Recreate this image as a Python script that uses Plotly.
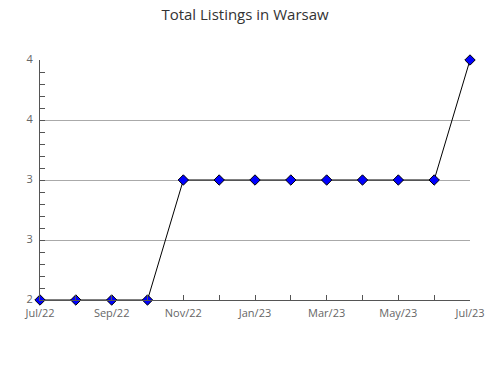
import plotly.graph_objects as go

months = ["Jul/22", "Aug/22", "Sep/22", "Oct/22", "Nov/22", "Dec/22", "Jan/23",
          "Feb/23", "Mar/23", "Apr/23", "May/23", "Jun/23", "Jul/23"]
listings = [2, 2, 2, 2, 3, 3, 3, 3, 3, 3, 3, 3, 4]
tick_labels = ["Jul/22", "Sep/22", "Nov/22", "Jan/23", "Mar/23", "May/23", "Jul/23"]
y_ticks = [2, 2.5, 3, 3.5, 4]
y_tick_labels = ["2", "3", "3", "4", "4"]

xs = list(range(len(months)))

fig = go.Figure()
fig.add_trace(go.Scatter(
    x=xs, y=listings, mode="lines+markers",
    line=dict(color="black", width=1),
    marker=dict(symbol="diamond", size=8, color="#0000ff",
                line=dict(color="black", width=1)),
    cliponaxis=False, hovertext=months,
))

fig.update_layout(
    width=490, height=380,
    margin=dict(l=40, r=20, t=60, b=80, autoexpand=False),
    paper_bgcolor="white", plot_bgcolor="white",
    showlegend=False,
    font=dict(family="Open Sans", color="#666666", size=11),
    title=dict(text="Total Listings in Warsaw", x=0.5, xanchor="center",
               y=0.96, yanchor="middle",
               font=dict(family="Open Sans", size=15, color="#333333")),
)
fig.update_xaxes(
    range=[0, 12], tickmode="array",
    tickvals=[0, 2, 4, 6, 8, 10, 12], ticktext=tick_labels,
    ticks="inside", ticklen=5, tickcolor="#555555", automargin=False,
    ticklabelstandoff=3,
    showline=True, linecolor="#555555", linewidth=1,
    showgrid=False, zeroline=False,
    minor=dict(dtick=1, tick0=0, ticks="inside", ticklen=5, tickcolor="#555555", showgrid=False),
)
fig.update_yaxes(
    range=[2, 4], tickmode="array", tickvals=y_ticks, ticktext=y_tick_labels,
    ticks="inside", ticklen=5, tickcolor="#555555", automargin=False,
    ticklabelshift=-1, ticklabelstandoff=4,
    showline=True, linecolor="#555555", linewidth=1,
    showgrid=True, gridcolor="#aaaaaa", gridwidth=1, zeroline=False,
    minor=dict(dtick=0.1, tick0=2, ticks="inside", ticklen=5, tickcolor="#555555", showgrid=False),
)

fig.write_html("out.html")
